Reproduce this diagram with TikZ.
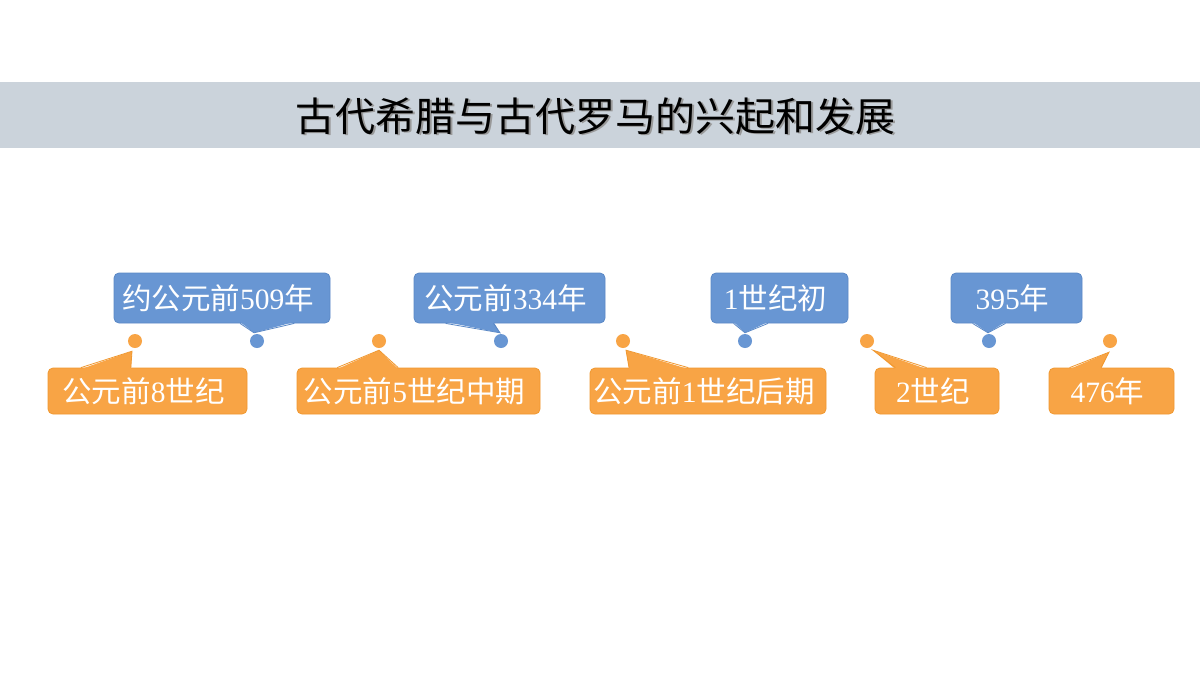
\documentclass[tikz,border=0pt]{standalone}
\usepackage{fontspec}
\setmainfont{Liberation Serif}
\newfontfamily\cjk{Noto Sans CJK SC}
\usetikzlibrary{calc}
\definecolor{bandgray}{HTML}{CBD3DB}
\definecolor{bluefill}{HTML}{6896D3}
\definecolor{blueline}{HTML}{5A88C6}
\definecolor{orangefill}{HTML}{F8A445}
\definecolor{orangeline}{HTML}{F09830}
\newcommand\zh[1]{{\cjk #1}}
\begin{document}
\begin{tikzpicture}[x=1pt,y=-1pt,
  boxbase/.style={rounded corners=5pt, line width=0.8pt, text=white, inner sep=0pt,
    font=\fontsize{29.5}{31}\selectfont, execute at end node={\hspace*{8pt}}},
  bluebox/.style={boxbase, draw=blueline, fill=bluefill, minimum height=50pt},
  orangebox/.style={boxbase, draw=orangeline, fill=orangefill, minimum height=46pt},
  bluedot/.style={circle, fill=bluefill, minimum size=14pt, inner sep=0pt},
  orangedot/.style={circle, fill=orangefill, minimum size=14pt, inner sep=0pt},
  bluetail/.style={fill=bluefill},
  orangetail/.style={fill=orangefill},
  bluetailline/.style={draw=blueline, line width=0.8pt},
  orangetailline/.style={draw=orangeline, line width=0.8pt},
  titletext/.style={font=\fontsize{40}{44}\selectfont\cjk, inner sep=0pt}
]
\useasboundingbox (0,0) rectangle (1200,675);
\fill[white] (0,0) rectangle (1200,675);
\fill[bandgray] (0,82) rectangle (1200,148);
\node[titletext, text=black!40] (titleshadow) at (597,117.5) {古代希腊与古代罗马的兴起和发展};
\node[titletext, text=black] (title) at (595.5,116) {古代希腊与古代罗马的兴起和发展};

% dots
\node[orangedot] (o1d) at (135,341) {};
\node[bluedot]   (b1d) at (257,341) {};
\node[orangedot] (o2d) at (379,341) {};
\node[bluedot]   (b2d) at (501,341) {};
\node[orangedot] (o3d) at (623,341) {};
\node[bluedot]   (b3d) at (745,341) {};
\node[orangedot] (o4d) at (867,341) {};
\node[bluedot]   (b4d) at (989,341) {};
\node[orangedot] (o5d) at (1110,341) {};

% blue boxes
\node[bluebox, minimum width=216pt] (b1) at (222,298) {\zh{约公元前}509\zh{年}};
\node[bluebox, minimum width=191pt] (b2) at (509.5,298) {\zh{公元前}334\zh{年}};
\node[bluebox, minimum width=137pt] (b3) at (779.5,298) {1\zh{世纪初}};
\node[bluebox, minimum width=131pt] (b4) at (1016.5,298) {395\zh{年}};

% orange boxes
\node[orangebox, minimum width=199pt] (o1) at (147.5,391) {\zh{公元前}8\zh{世纪}};
\node[orangebox, minimum width=243pt] (o2) at (418.5,391) {\zh{公元前}5\zh{世纪中期}};
\node[orangebox, minimum width=236pt] (o3) at (708,391) {\zh{公元前}1\zh{世纪后期}};
\node[orangebox, minimum width=124pt] (o4) at (937,391) {2\zh{世纪}};
\node[orangebox, minimum width=125pt] (o5) at (1111.5,391) {476\zh{年}};

% blue tails (bottom edge)
\foreach \b/\f/\g/\dx in {b1/7/10/-3, b2/2/5/-1, b3/2/5/0, b4/2/5/-1}{
  \coordinate (\b L) at ($(\b.south west)!\f/12!(\b.south east)$);
  \coordinate (\b R) at ($(\b.south west)!\g/12!(\b.south east)$);
  \coordinate (\b T) at ($(\b d.north)+(\dx,-1)$);
  \fill[bluetail] ($(\b L)+(0,-1.5)$) -- (\b T) -- ($(\b R)+(0,-1.5)$) -- cycle;
  \draw[bluetailline] (\b L) -- (\b T) -- (\b R);
}
% orange tails (top edge)
\foreach \o/\dx/\dy in {o1/-3/3, o2/0/2, o3/3/2, o4/6/2, o5/-1/4}{
  \coordinate (\o L) at ($(\o.north west)!2/12!(\o.north east)$);
  \coordinate (\o R) at ($(\o.north west)!5/12!(\o.north east)$);
  \coordinate (\o T) at ($(\o d.south)+(\dx,\dy)$);
  \fill[orangetail] ($(\o L)+(0,1.5)$) -- (\o T) -- ($(\o R)+(0,1.5)$) -- cycle;
  \draw[orangetailline] (\o L) -- (\o T) -- (\o R);
}
\end{tikzpicture}
\end{document}
